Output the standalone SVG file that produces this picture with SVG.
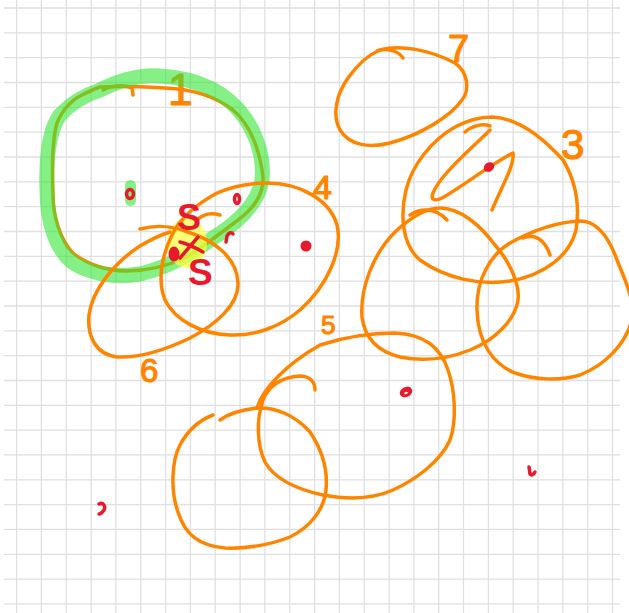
<svg xmlns="http://www.w3.org/2000/svg" width="629" height="613" viewBox="0 0 629 613">
<style>
.grid{stroke:#e0e0e0;stroke-width:1.3;fill:none}
.o{fill:none;stroke:#ff8500;stroke-width:3.5;stroke-linecap:round;stroke-linejoin:round}
.hl{fill:none;stroke:#33e633;stroke-opacity:0.6;stroke-width:15;stroke-linecap:round;stroke-linejoin:round}
.r{fill:none;stroke:#e8192c;stroke-width:3.5;stroke-linecap:round;stroke-linejoin:round}
.rf{fill:#e8192c}
.lbl{font-family:"Liberation Sans",Arial,sans-serif;fill:#ff8500;stroke:#ff8500;stroke-width:1.2;stroke-linejoin:round}
.rl{font-family:"Liberation Sans",Arial,sans-serif;fill:#e8192c;font-weight:bold}
</style>
<rect width="629" height="613" fill="#ffffff"/>
<g id="grid">
<path class="grid" d="M16.6,0V613M41.4,0V613M66.3,0V613M91.1,0V613M115.9,0V613M140.8,0V613M165.6,0V613M190.4,0V613M215.2,0V613M240.1,0V613M264.9,0V613M289.7,0V613M314.6,0V613M339.4,0V613M364.2,0V613M389.1,0V613M413.9,0V613M438.7,0V613M463.5,0V613M488.4,0V613M513.2,0V613M538,0V613M562.9,0V613M587.7,0V613M612.5,0V613"/>
<path class="grid" d="M4,8H620M4,32.8H620M4,57.7H620M4,82.5H620M4,107.3H620M4,132.2H620M4,157H620M4,181.8H620M4,206.6H620M4,231.5H620M4,256.3H620M4,281.1H620M4,306H620M4,330.8H620M4,355.6H620M4,380.5H620M4,405.3H620M4,430.1H620M4,454.9H620M4,479.8H620M4,504.6H620M4,529.4H620M4,554.3H620M4,579.1H620M4,603.9H620"/>
</g>
<g id="circle1">
<path class="o" d="M100,87 C120,86 145,87 165,88 C190,89 215,96 233,110 C250,124 260,150 263,177 C264,195 252,210 238,220 C225,230 208,243 187,257 C165,267 145,271 127,271 C105,271 85,263 73,253 C60,240 53,215 53,195 C52,170 52,140 57,123 C62,110 72,100 80,96 C88,92 94,89 100,87"/>
<path class="o" d="M103,90 C110,86 122,84 132,88 L133,95"/>
<text class="lbl" x="168" y="105" font-size="44">1</text>
</g>
<g id="highlight">
<path class="hl" d="M100,90 C120,80 140,74 160,76 C195,78 225,90 245,118 C258,138 264,160 262,180 C258,205 235,225 210,240 C190,255 165,268 140,274 C115,278 90,274 72,262 C55,248 47,220 47,190 C46,160 49,130 60,115 C72,102 85,95 100,90 Z"/>
<rect x="125" y="180" width="11" height="26" rx="5.5" fill="#33e633" fill-opacity="0.6"/>
<ellipse cx="187" cy="243" rx="20" ry="25" fill="#ffff40" fill-opacity="0.7"/>
</g>
<g id="circle4">
<path class="o" d="M267,183 C300,183 330,200 337,225 C343,250 328,285 300,310 C280,327 255,336 230,335 C200,334 175,320 165,300 C157,280 162,255 172,235 C180,218 195,205 217,193 C233,186 250,183 267,183 Z"/>
<path class="o" d="M197,220 C202,215 210,212 220,215"/>
<text class="lbl" x="313" y="199" font-size="34">4</text>
</g>
<g id="circle6">
<path class="o" d="M140,229 C155,225 172,226 185,231 C215,240 237,258 238,283 C239,305 215,325 190,338 C165,350 140,358 118,357 C95,355 87,335 89,315 C92,290 115,262 140,246 C150,240 160,235 170,232"/>
<text class="lbl" x="140" y="382" font-size="33">6</text>
</g>
<g id="circle7">
<path class="o" d="M380,50 C400,44 430,50 455,63 C468,72 470,90 462,100 C450,117 420,135 390,143 C370,148 350,146 340,130 C332,115 336,95 348,78 C358,64 370,54 380,50 Z"/>
<path class="o" d="M377,51 C385,48 398,50 403,58"/>
<text class="lbl" x="448" y="62" font-size="38">7</text>
</g>
<g id="circle3">
<path class="o" d="M492,117 C520,118 545,140 563,160 C575,180 580,205 576,230 C570,255 545,275 510,281 C480,286 445,278 420,260 C402,245 400,215 406,190 C412,165 432,140 455,127 C470,119 480,117 492,117 Z"/>
<path class="o" d="M465,132 C472,126 482,123 490,126"/>
<path class="o" d="M490,130 C470,150 440,175 433,193 C430,201 436,201 442,198 C460,188 490,165 513,153 C515,165 500,190 492,210"/>
<text class="lbl" x="561" y="159" font-size="42">3</text>
</g>
<g id="circle8">
<path class="o" d="M362,317 C360,290 372,255 395,232 C410,218 425,208 440,208 C460,208 480,225 495,245 C510,262 520,285 518,300 C515,320 495,340 470,350 C450,358 425,362 400,357 C380,352 365,340 362,317 Z"/>
<path class="o" d="M410,215 C420,208 435,207 447,220"/>
</g>
<g id="circle9">
<path class="o" d="M477,310 C476,280 490,255 510,243 C530,232 555,222 580,221 C595,221 608,235 617,260 C625,280 635,300 632,320 C625,345 605,365 580,375 C560,381 535,380 515,373 C495,365 478,345 477,310 Z"/>
<path class="o" d="M523,238 C535,233 545,240 550,255"/>
</g>
<g id="circle5">
<path class="o" d="M257,408 C262,390 285,365 320,345 C345,337 370,333 395,333 C420,334 440,345 448,370 C455,390 457,420 450,440 C440,462 415,480 393,490 C375,498 350,500 323,495 C300,490 275,480 265,462 C257,445 256,420 263,400 C270,383 285,377 300,376 C310,376 315,382 315,390"/>
<text class="lbl" x="321" y="334" font-size="26">5</text>
</g>
<g id="circle10">
<path class="o" d="M220,420 C228,414 240,410 257,408 C275,407 295,415 310,432 C322,450 328,470 326,490 C324,510 310,527 290,537 C270,545 245,549 225,548 C200,546 185,535 178,512 C170,490 172,460 180,445 C188,430 200,420 213,415"/>
</g>
<g id="marks">
<ellipse class="r" cx="130" cy="194" rx="3.5" ry="4.5"/>
<ellipse class="r" cx="237" cy="199" rx="2.5" ry="4.5" stroke-width="3"/>
<path class="r" d="M226,242 L227,236 C229,232 232,232 233,234"/>
<text class="rl" x="177" y="230" font-size="36">S</text>
<path class="r" d="M180,242 C188,244 196,248 203,252" stroke-width="4.5"/>
<path class="r" d="M198,237 C192,244 186,251 180,258" stroke-width="4.5"/>
<ellipse class="rf" cx="174" cy="254" rx="5.5" ry="7.5"/>
<text class="rl" x="188" y="285" font-size="37">S</text>
<circle class="rf" cx="306" cy="246" r="5.5"/>
<ellipse class="rf" cx="489" cy="167" rx="5.5" ry="4.5" transform="rotate(-35 489 167)"/>
<ellipse class="rf" cx="406" cy="392" rx="6.5" ry="5" transform="rotate(-25 406 392)"/>
<ellipse cx="406" cy="393" rx="2" ry="1" fill="#ffffff" transform="rotate(-25 406 393)"/>
<path class="r" d="M529,467 L530,474 C532,476 534,474 535,472" stroke-width="4"/>
<path class="r" d="M99,504 C103,502 106,506 104,510 C102,513 100,514 99,514" stroke-width="4"/>
</g>
</svg>
